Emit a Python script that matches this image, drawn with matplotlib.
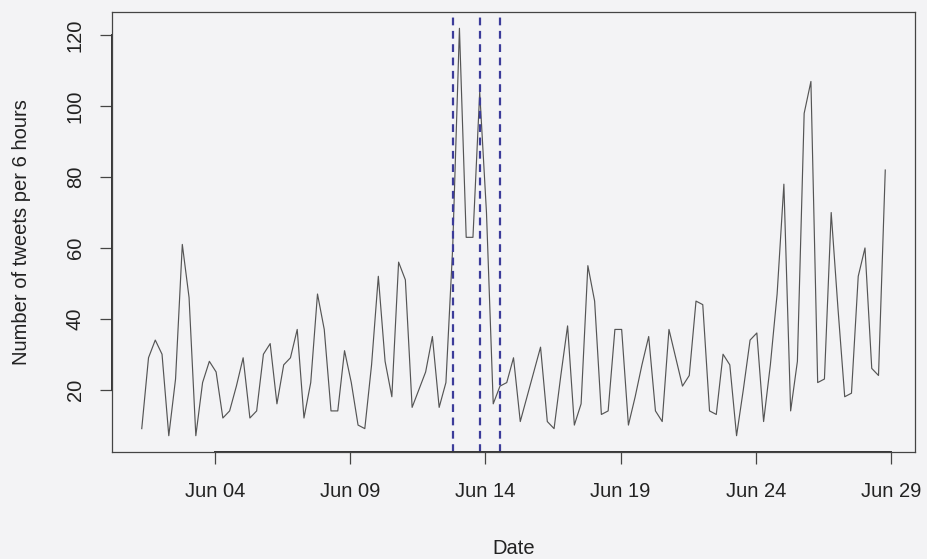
import numpy as np
import pandas as pd
import matplotlib
matplotlib.use("Agg")
import matplotlib.pyplot as plt
import matplotlib.dates as mdates

# tweets per 6-hour bin
counts = [
    9, 29, 34, 30, 7, 23, 61, 46, 7, 22,
    28, 25, 12, 14, 21, 29, 12, 14, 30, 33,
    16, 27, 29, 37, 12, 22, 47, 37, 14, 14,
    31, 22, 10, 9, 27, 52, 28, 18, 56, 51,
    15, 20, 25, 35, 15, 22, 60, 122, 63, 63,
    104, 70, 16, 21, 22, 29, 11, 18, 25, 32,
    11, 9, 24, 38, 10, 16, 55, 45, 13, 14,
    37, 37, 10, 18, 27, 35, 14, 11, 37, 29,
    21, 24, 45, 44, 14, 13, 30, 27, 7, 20,
    34, 36, 11, 27, 47, 78, 14, 28, 98, 107,
    22, 23, 70, 43, 18, 19, 52, 60, 26, 24,
    82,
]
start_time = "2013-06-01 07:00"
event_times = ["2013-06-12 19:00", "2013-06-13 19:00", "2013-06-14 13:00"]
tick_dates = ["2013-06-04", "2013-06-09", "2013-06-14", "2013-06-19",
              "2013-06-24", "2013-06-29"]
y_ticks = [20, 40, 60, 80, 100, 120]

times = pd.date_range(start_time, periods=len(counts), freq="6h")

plt.rcParams["font.family"] = ["Liberation Sans", "DejaVu Sans"]

bg = "#f3f3f5"
fig = plt.figure(figsize=(9.28, 5.59), dpi=100, facecolor=bg)
ax = fig.add_axes([0.1207, 0.1914, 0.986 - 0.1207, 0.9785 - 0.1914])
ax.set_facecolor(bg)

ax.plot(times, counts, color="#555555", lw=0.85)

for t in event_times:
    ax.axvline(pd.Timestamp(t), color="#3c3c9a", lw=1.6, ls=(0, (3.5, 2.5)))

# R-style 4% padding
xnum = mdates.date2num(times)
xpad = 0.04 * (xnum.max() - xnum.min())
ax.set_xlim(xnum.min() - xpad, xnum.max() + xpad)
ypad = 0.04 * (max(counts) - min(counts))
ax.set_ylim(min(counts) - ypad, max(counts) + ypad)

ticks = pd.to_datetime(tick_dates)
ax.set_xticks(ticks)
ax.set_xticklabels([d.strftime("%b %d") for d in ticks])
ax.set_yticks(y_ticks)
ax.set_yticklabels([str(v) for v in y_ticks], rotation=90, va="center")

for s in ax.spines.values():
    s.set_color("#444444")
    s.set_linewidth(0.9)

# axis lines spanning first to last tick, as R's axis() draws them
ax.plot([ticks[0], ticks[-1]], [0, 0], color="#333333", lw=1.4,
        transform=ax.get_xaxis_transform(), clip_on=False)
ax.plot([0, 0], [y_ticks[0], y_ticks[-1]], color="#333333", lw=1.4,
        transform=ax.get_yaxis_transform(), clip_on=False)

ax.tick_params(axis="both", direction="out", length=8.5, width=0.9,
               color="#444444", labelsize=14.5, labelcolor="#222222")
ax.tick_params(axis="x", pad=13)
ax.tick_params(axis="y", pad=11)

ax.set_xlabel("Date", fontsize=14.5, color="#222222")
ax.xaxis.set_label_coords(0.5, (452 - 548) / 440)
ax.xaxis.label.set_va("center")
ax.set_ylabel("Number of tweets per 6 hours", fontsize=14.5, color="#222222")
ax.yaxis.set_label_coords((21 - 112) / 803, 0.5)
ax.yaxis.label.set_va("center")

fig.savefig("out.png", dpi=100, facecolor=bg)
